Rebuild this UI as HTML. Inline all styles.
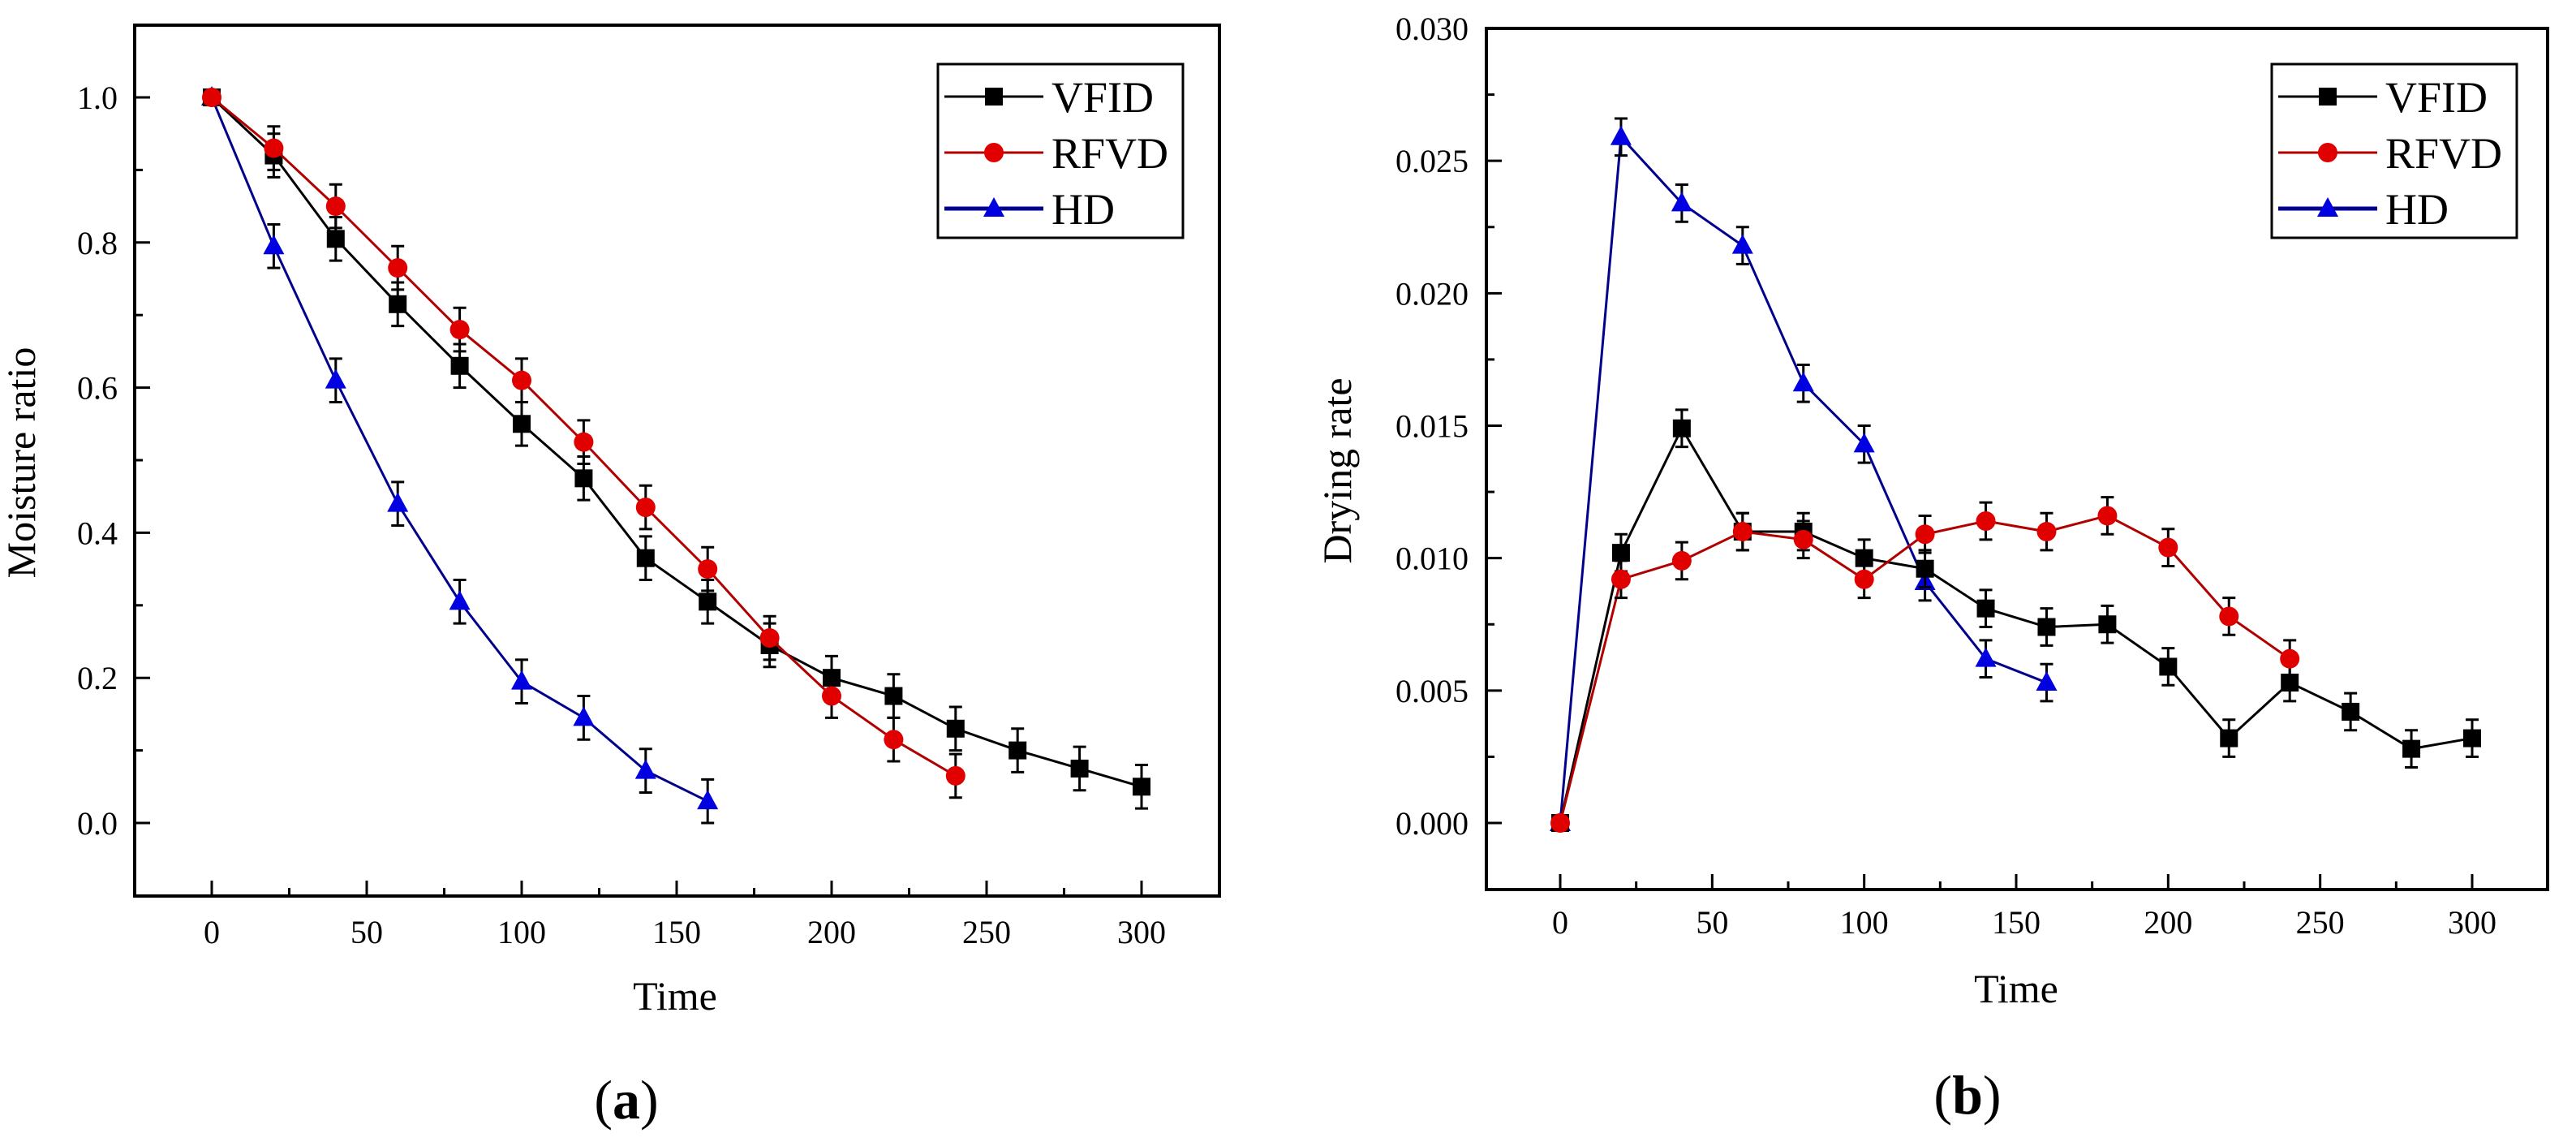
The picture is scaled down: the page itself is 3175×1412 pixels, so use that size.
<!DOCTYPE html>
<html><head><meta charset="utf-8"><style>
html,body{margin:0;padding:0;background:#fff;}
svg{display:block;font-family:"Liberation Serif",serif;}
</style></head><body>
<svg id="fig" width="3175" height="1412" viewBox="0 0 3175 1412" xmlns="http://www.w3.org/2000/svg"></svg>
<script>
const timesVFID=[0,20,40,60,80,100,120,140,160,180,200,220,240,260,280,300];
const timesRFVD=[0,20,40,60,80,100,120,140,160,180,200,220,240];
const timesHD=[0,20,40,60,80,100,120,140,160];
const mrVFID=[1.0,0.92,0.805,0.715,0.63,0.55,0.475,0.365,0.305,0.245,0.2,0.175,0.13,0.1,0.075,0.05];
const mrRFVD=[1.0,0.93,0.85,0.765,0.68,0.61,0.525,0.435,0.35,0.255,0.175,0.115,0.065];
const mrHD=[1.0,0.795,0.61,0.44,0.305,0.195,0.145,0.072,0.03];
const drVFID=[0,0.0102,0.0149,0.0110,0.0110,0.0100,0.0096,0.0081,0.0074,0.0075,0.0059,0.0032,0.0053,0.0042,0.0028,0.0032];
const drRFVD=[0,0.0092,0.0099,0.0110,0.0107,0.0092,0.0109,0.0114,0.0110,0.0116,0.0104,0.0078,0.0062];
const drHD=[0,0.0259,0.0234,0.0218,0.0166,0.0143,0.0091,0.0062,0.0053];
const xTicks=[0,50,100,150,200,250,300];
const mrTicks=[0,0.2,0.4,0.6,0.8,1.0];
const drTicks=[0,0.005,0.010,0.015,0.020,0.025,0.030];
const seriesNames=["VFID","RFVD","HD"];

const NS="http://www.w3.org/2000/svg";
const svg=document.getElementById('fig');
function el(tag,attrs,parent){const e=document.createElementNS(NS,tag);for(const k in attrs)e.setAttribute(k,attrs[k]);(parent||svg).appendChild(e);return e;}

function drawChart(cfg){
  const g=el('g',{});
  
  
  const X=v=>cfg.x0px+(v-0)*(cfg.x300px-cfg.x0px)/300;
  const Y=v=>cfg.y0px-(v-cfg.ymin0)*(cfg.y0px-cfg.yTopTickPx)/(cfg.yTopTickVal-cfg.ymin0);
  // frame
  const fr=el('rect',{x:cfg.L,y:cfg.T,width:cfg.R-cfg.L,height:cfg.B-cfg.T,fill:'none',stroke:'#000','stroke-width':4},g);
  
  
  // x ticks
  for(let i=0;i<xTicks.length;i++){
    const v=xTicks[i];
    el('line',{x1:X(v),x2:X(v),y1:cfg.B,y2:cfg.B-19,stroke:'#000','stroke-width':3},g);
    if(i<xTicks.length-1){const m=X(v+25);el('line',{x1:m,x2:m,y1:cfg.B,y2:cfg.B-10,stroke:'#000','stroke-width':3},g);}
    const t=el('text',{x:X(v),y:cfg.xLabY,'font-size':40,'text-anchor':'middle'},g);
    t.textContent=String(v);
    
    
  }
  // y ticks
  for(let i=0;i<cfg.yTicks.length;i++){
    const v=cfg.yTicks[i];
    el('line',{x1:cfg.L,x2:cfg.L+19,y1:Y(v),y2:Y(v),stroke:'#000','stroke-width':3},g);
    if(i<cfg.yTicks.length-1){const mv=(v+cfg.yTicks[i+1])/2;el('line',{x1:cfg.L,x2:cfg.L+10,y1:Y(mv),y2:Y(mv),stroke:'#000','stroke-width':3},g);}
    const t=el('text',{x:cfg.yLabX,y:Y(v)+14,'font-size':40,'text-anchor':'end'},g);
    t.textContent=v.toFixed(cfg.dec);
    
    
  }
  // titles
  const yt=el('text',{x:cfg.ytX,y:cfg.ytY,'font-size':50,'text-anchor':'middle',transform:`rotate(-90 ${cfg.ytX} ${cfg.ytY})`},g);
  yt.textContent=cfg.yTitle;
  
  
  const xt=el('text',{x:cfg.xtX,y:cfg.xtY,'font-size':50,'text-anchor':'middle'},g);
  xt.textContent='Time';
  
  
  const pl=el('text',{x:cfg.xtX-60,y:cfg.panelY,'font-size':68,'text-anchor':'middle'},g);
  pl.innerHTML='(<tspan font-weight="bold">'+cfg.panel+'</tspan>)';
  
  
  // series
  const colors=['#000','#e00000','#0000e0'];
  const lineColors=['#000','#b00000','#00008c'];
  const errs=[cfg.err,cfg.err,cfg.err];
  const order=[2,0,1];
  for(const si of order){
    const xs=cfg.times[si], ys=cfg.vals[si];
    const sg=el('g',{},g);
    
    
    const pts=xs.map((t,i)=>X(t)+','+Y(ys[i])).join(' ');
    el('polyline',{points:pts,fill:'none',stroke:lineColors[si],'stroke-width':3},sg);
    for(let i=1;i<xs.length;i++){
      const px=X(xs[i]),py1=Y(ys[i]-errs[si]),py2=Y(ys[i]+errs[si]);
      el('line',{x1:px,x2:px,y1:py1,y2:py2,stroke:'#000','stroke-width':3},sg);
      el('line',{x1:px-8,x2:px+8,y1:py1,y2:py1,stroke:'#000','stroke-width':3},sg);
      el('line',{x1:px-8,x2:px+8,y1:py2,y2:py2,stroke:'#000','stroke-width':3},sg);
    }
    for(let i=0;i<xs.length;i++){
      const m=marker(sg,si,X(xs[i]),Y(ys[i]),colors[si]);
      
      
    }
  }
  // legend
  const lg=el('g',{},g);
  
  
  el('rect',{x:cfg.legX,y:cfg.legY,width:302,height:214,fill:'#fff',stroke:'#000','stroke-width':3},lg);
  for(let si=0;si<3;si++){
    const ly=cfg.legY+40+si*69;
    const e=el('g',{},lg);
    
    
    el('line',{x1:cfg.legX+8,x2:cfg.legX+130,y1:ly,y2:ly,stroke:lineColors[si],'stroke-width':si==2?5:3},e);
    marker(e,si,cfg.legX+69,ly,colors[si]);
    const t=el('text',{x:cfg.legX+140,y:ly+19,'font-size':54},e);
    t.textContent=seriesNames[si];
  }
}
function marker(parent,si,x,y,c){
  if(si==0) return el('rect',{x:x-11,y:y-11,width:22,height:22,fill:c},parent);
  if(si==1) return el('circle',{cx:x,cy:y,r:12,fill:c},parent);
  return el('polygon',{points:`${x},${y-14} ${x-13},${y+10} ${x+13},${y+10}`,fill:c},parent);
}
drawChart({name:'chart-moisture-ratio',L:166,T:31,R:1503,B:1104,x0px:261,x300px:1407,
  y0px:1014,yTopTickPx:120,yTopTickVal:1.0,ymin0:0,yTicks:mrTicks,dec:1,yLabX:145,xLabY:1162,
  ytX:43,ytY:570,yTitle:'Moisture ratio',xtX:832,xtY:1244,panel:'a',panelY:1378,
  times:[timesVFID,timesRFVD,timesHD],vals:[mrVFID,mrRFVD,mrHD],err:0.03,legX:1156,legY:79});
drawChart({name:'chart-drying-rate',L:1832,T:35,R:3140,B:1096,x0px:1923,x300px:3047,
  y0px:1014,yTopTickPx:35,yTopTickVal:0.030,ymin0:0,yTicks:drTicks,dec:3,yLabX:1810,xLabY:1150,
  ytX:1665,ytY:580,yTitle:'Drying rate',xtX:2485,xtY:1235,panel:'b',panelY:1372,
  times:[timesVFID,timesRFVD,timesHD],vals:[drVFID,drRFVD,drHD],err:0.0007,legX:2800,legY:79});
</script>
</body></html>
